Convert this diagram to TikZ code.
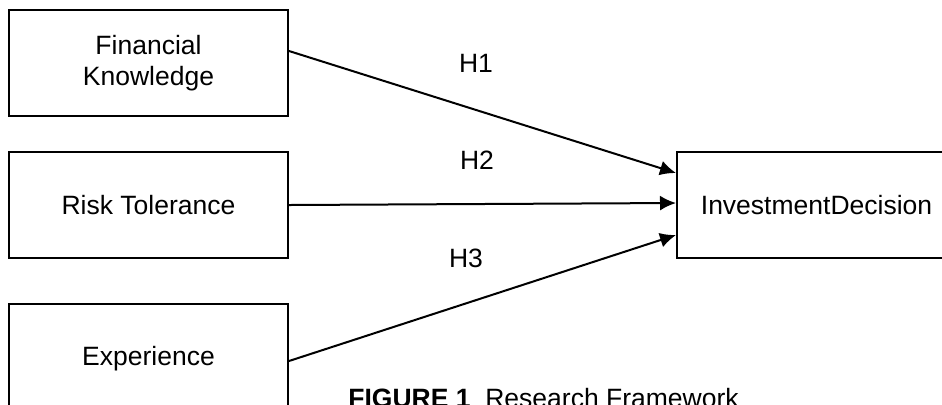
\documentclass[tikz,border=0pt]{standalone}
\usepackage{fontspec}
\setmainfont{Liberation Sans}
\usepackage{tikz}
\usetikzlibrary{positioning,arrows.meta}
\tikzset{>={Latex[length=8pt,width=7.5pt]}}
\tikzset{box/.style={draw,line width=1pt,minimum width=139.5pt,minimum height=53pt,align=center,inner sep=0pt}}

\begin{document}
\begin{tikzpicture}[x=0.5pt,y=-0.5pt,font=\fontsize{13.25pt}{15.5pt}\selectfont]
    \useasboundingbox (0,0) rectangle (942,404);
    % set up the nodes
    \node[box] (FK) at (148.5,63) {Financial\\Knowledge};
    \node[box,below=17pt of FK] (RT) {Risk Tolerance};
    \node[box,below=22pt of RT,minimum height=55pt] (EX) {Experience};
    \node[box] (ID) at (816.5,205) {InvestmentDecision};
    % draw arrows and text between them
    \draw[->,line width=1pt] ([yshift=6pt]FK.east) -- ([yshift=16pt]ID.west);
    \draw[->,line width=1pt] (RT.east) -- ([yshift=1pt]ID.west);
    \draw[->,line width=1pt] ([yshift=-1pt]EX.east) -- ([yshift=-15pt]ID.west);
    \node (H1) at (476,63) {H1};
    \node (H2) at (477,160) {H2};
    \node (H3) at (466,258) {H3};
    % caption
    \node[anchor=base west,inner sep=0pt] (FIG) at (348,407) {\textbf{FIGURE 1}~~Research Framework};
\end{tikzpicture}
\end{document}
